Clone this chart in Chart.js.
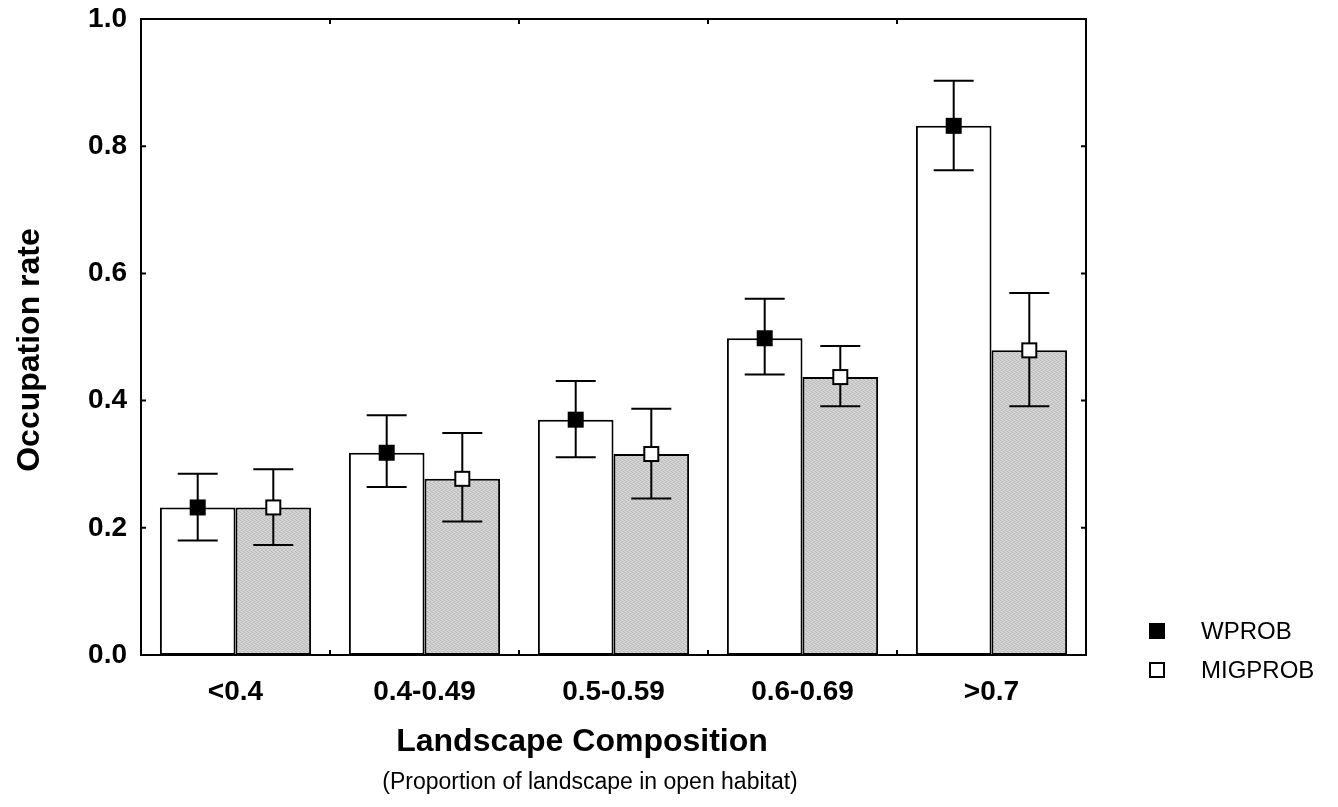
<!DOCTYPE html>
<html>
<head>
<meta charset="utf-8">
<title>Occupation rate by landscape composition</title>
<script src="https://cdn.jsdelivr.net/npm/chart.js@4.4.1/dist/chart.umd.min.js"></script>
<style>
  html, body { margin: 0; padding: 0; background: #fff; }
  #wrap { width: 1338px; height: 807px; }
</style>
</head>
<body>
<div id="wrap"><canvas id="chart"></canvas></div>
<script>
const categories = ['<0.4', '0.4-0.49', '0.5-0.59', '0.6-0.69', '>0.7'];
const yTicks = [0, 0.2, 0.4, 0.6, 0.8, 1.0];

// WPROB: mean occupation rate and error bar limits
const wprob = [0.232, 0.318, 0.370, 0.498, 0.832];
const wprobHigh = [0.285, 0.377, 0.431, 0.560, 0.903];
const wprobLow = [0.180, 0.264, 0.311, 0.441, 0.762];

// MIGPROB
const migprob = [0.232, 0.277, 0.316, 0.437, 0.479];
const migprobHigh = [0.292, 0.349, 0.387, 0.486, 0.569];
const migprobLow = [0.173, 0.210, 0.246, 0.391, 0.391];

const FONT = '"Liberation Sans", Arial, Helvetica, sans-serif';

// fine grey texture for the MIGPROB bars
function greyPattern() {
  const c = document.createElement('canvas');
  c.width = 4; c.height = 4;
  const g = c.getContext('2d');
  g.fillStyle = '#cdcdcd';
  g.fillRect(0, 0, 4, 4);
  g.fillStyle = '#b9b9b9';
  [[0, 0], [2, 1], [1, 2], [3, 3]].forEach(p => g.fillRect(p[0], p[1], 1, 1));
  g.fillStyle = '#dadada';
  [[2, 0], [0, 1], [3, 2], [1, 3]].forEach(p => g.fillRect(p[0], p[1], 1, 1));
  return g.createPattern(c, 'repeat');
}

function drawMarker(ctx, cx, cy, filled) {
  if (filled) {
    ctx.fillStyle = '#000';
    ctx.fillRect(cx - 8, cy - 8, 16, 16);
  } else {
    ctx.fillStyle = '#fff';
    ctx.fillRect(cx - 7, cy - 7, 14, 14);
    ctx.strokeStyle = '#000';
    ctx.lineWidth = 2;
    ctx.strokeRect(cx - 7, cy - 7, 14, 14);
  }
}

const extras = {
  id: 'extras',
  afterDatasetsDraw(chart) {
    const ctx = chart.ctx;
    const {left, right, top, bottom} = chart.chartArea;
    const xs = chart.scales.x, ys = chart.scales.y;
    ctx.save();

    // error bars + mean markers on every bar
    chart.data.datasets.forEach((ds, di) => {
      chart.getDatasetMeta(di).data.forEach((bar, i) => {
        const cx = bar.x;
        const yl = ys.getPixelForValue(ds.errLow[i]);
        const yh = ys.getPixelForValue(ds.errHigh[i]);
        ctx.strokeStyle = '#000';
        ctx.lineWidth = 2;
        ctx.beginPath();
        ctx.moveTo(cx, yl); ctx.lineTo(cx, yh);
        ctx.moveTo(cx - 20, yl); ctx.lineTo(cx + 20, yl);
        ctx.moveTo(cx - 20, yh); ctx.lineTo(cx + 20, yh);
        ctx.stroke();
        drawMarker(ctx, cx, bar.y, ds.markerFilled);
      });
    });

    // frame with inward ticks
    ctx.strokeStyle = '#000';
    ctx.lineWidth = 2;
    ctx.strokeRect(left, top, right - left, bottom - top);
    ctx.beginPath();
    yTicks.forEach(v => {
      const py = ys.getPixelForValue(v);
      ctx.moveTo(left, py); ctx.lineTo(left + 5, py);
      ctx.moveTo(right, py); ctx.lineTo(right - 5, py);
    });
    for (let i = 0; i < categories.length - 1; i++) {
      const px = (xs.getPixelForValue(i) + xs.getPixelForValue(i + 1)) / 2;
      ctx.moveTo(px, top); ctx.lineTo(px, top + 5);
      ctx.moveTo(px, bottom); ctx.lineTo(px, bottom - 5);
    }
    ctx.stroke();

    // legend
    ctx.fillStyle = '#000';
    ctx.font = '24px ' + FONT;
    ctx.textAlign = 'left';
    ctx.textBaseline = 'middle';
    chart.data.datasets.forEach((ds, di) => {
      const ly = 631 + di * 39;
      drawMarker(ctx, 1157, ly, ds.markerFilled);
      ctx.fillStyle = '#000';
      ctx.fillText(ds.label, 1201, ly + 1);
    });

    // axis titles
    ctx.textAlign = 'center';
    ctx.font = 'bold 32px ' + FONT;
    ctx.fillText('Landscape Composition', 582, 742);
    ctx.font = '23px ' + FONT;
    ctx.fillText('(Proportion of landscape in open habitat)', 590, 783);
    ctx.translate(30, 350);
    ctx.rotate(-Math.PI / 2);
    ctx.font = 'bold 32px ' + FONT;
    ctx.fillText('Occupation rate', 0, 0);
    ctx.restore();
  }
};

new Chart(document.getElementById('chart'), {
  type: 'bar',
  data: {
    labels: categories,
    datasets: [
      {
        label: 'WPROB',
        data: wprob,
        errLow: wprobLow,
        errHigh: wprobHigh,
        markerFilled: true,
        backgroundColor: '#fff',
        borderColor: '#000',
        borderWidth: 2,
        borderSkipped: false
      },
      {
        label: 'MIGPROB',
        data: migprob,
        errLow: migprobLow,
        errHigh: migprobHigh,
        markerFilled: false,
        backgroundColor: greyPattern(),
        borderColor: '#000',
        borderWidth: 2,
        borderSkipped: false
      }
    ]
  },
  options: {
    responsive: true,
    maintainAspectRatio: false,
    animation: false,
    layout: { padding: { top: 19, right: 252, left: 0, bottom: 0 } },
    datasets: { bar: { barPercentage: 1.0, categoryPercentage: 0.8 } },
    plugins: { legend: { display: false }, tooltip: { enabled: false } },
    scales: {
      x: {
        grid: { display: false, drawTicks: false },
        border: { display: false },
        ticks: { color: '#000', font: { family: FONT, size: 28, weight: 'bold' }, padding: 20, maxRotation: 0 },
        afterFit(s) { s.height = 152; s.paddingLeft = 0; s.paddingRight = 0; }
      },
      y: {
        min: 0,
        max: 1,
        afterBuildTicks(s) { s.ticks = yTicks.map(v => ({ value: v })); },
        grid: { display: false, drawTicks: false },
        border: { display: false },
        ticks: { color: '#000', font: { family: FONT, size: 28, weight: 'bold' }, padding: 14, callback: v => v.toFixed(1) },
        afterFit(s) { s.width = 141; s.paddingTop = 0; s.paddingBottom = 0; }
      }
    }
  },
  plugins: [extras]
});
</script>
</body>
</html>
